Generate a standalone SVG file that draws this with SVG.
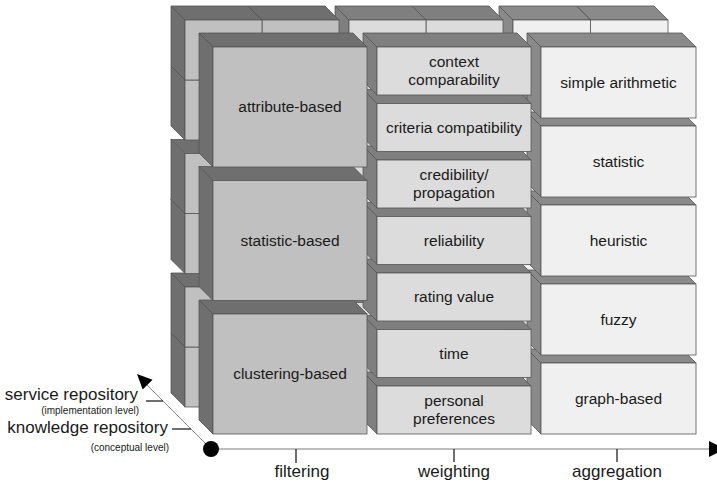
<svg xmlns="http://www.w3.org/2000/svg" width="717" height="485" viewBox="0 0 717 485">
<style>
.ff{fill:#c0c0c0;stroke:#555;stroke-width:0.8}
.fs{fill:#6f6f6f;stroke:#555;stroke-width:0.8}
.wf{fill:#dcdcdc;stroke:#555;stroke-width:0.8}
.ws{fill:#7f7f7f;stroke:#555;stroke-width:0.8}
.af{fill:#f0f0f0;stroke:#555;stroke-width:0.8}
.as{fill:#8a8a8a;stroke:#555;stroke-width:0.8}
text{font-family:"Liberation Sans",Arial,sans-serif;fill:#1a1a1a}
.lbl{font-size:15.5px;text-anchor:middle}
.ax{font-size:17px;text-anchor:middle}
.side{font-size:17px;text-anchor:end}
.small{font-size:10px;text-anchor:end}
.tick{stroke:#111;stroke-width:1.2}
</style>
<defs>
<g id="fbox"><path class="fs" d="M-14,-14H140L154,0H0Z"/><path class="fs" d="M-14,-14L0,0V120L-14,106Z"/><rect class="ff" width="154" height="120"/></g>
<g id="wbox"><path class="ws" d="M-14,-14H140L154,0H0Z"/><path class="ws" d="M-14,-14L0,0V48L-14,34Z"/><rect class="wf" width="154" height="48"/></g>
<g id="abox"><path class="as" d="M-14,-14H141L155,0H0Z"/><path class="as" d="M-14,-14L0,0V71L-14,57Z"/><rect class="af" width="155" height="71"/></g>
<g id="bfcell"><path class="fs" d="M-14,-14H63L77,0H0Z"/><path class="fs" d="M-14,-14L0,0V60L-14,46Z"/><rect class="ff" width="77" height="60"/></g>
<g id="bwcell"><path class="ws" d="M-14,-14H63L77,0H0Z"/><path class="ws" d="M-14,-14L0,0V48L-14,34Z"/><rect class="wf" width="77" height="48"/></g>
<g id="bacell"><path class="as" d="M-14,-14H63.5L77.5,0H0Z"/><path class="as" d="M-14,-14L0,0V71L-14,57Z"/><rect class="af" width="77.5" height="71"/></g>
</defs>

<g id="back-layer">
<g id="back-aggregation">
<use href="#bacell" x="590.5" y="336"/><use href="#bacell" x="513" y="336"/>
<use href="#bacell" x="590.5" y="257"/><use href="#bacell" x="513" y="257"/>
<use href="#bacell" x="590.5" y="178"/><use href="#bacell" x="513" y="178"/>
<use href="#bacell" x="590.5" y="99"/><use href="#bacell" x="513" y="99"/>
<use href="#bacell" x="590.5" y="20"/><use href="#bacell" x="513" y="20"/>
</g>
<g id="back-weighting">
<use href="#bwcell" x="426" y="359"/><use href="#bwcell" x="349" y="359"/>
<use href="#bwcell" x="426" y="302.5"/><use href="#bwcell" x="349" y="302.5"/>
<use href="#bwcell" x="426" y="246"/><use href="#bwcell" x="349" y="246"/>
<use href="#bwcell" x="426" y="189.5"/><use href="#bwcell" x="349" y="189.5"/>
<use href="#bwcell" x="426" y="133"/><use href="#bwcell" x="349" y="133"/>
<use href="#bwcell" x="426" y="76.5"/><use href="#bwcell" x="349" y="76.5"/>
<use href="#bwcell" x="426" y="20"/><use href="#bwcell" x="349" y="20"/>
</g>
<g id="back-filtering">
<use href="#bfcell" x="262" y="347"/><use href="#bfcell" x="185" y="347"/>
<use href="#bfcell" x="262" y="287"/><use href="#bfcell" x="185" y="287"/>
<use href="#bfcell" x="262" y="213.5"/><use href="#bfcell" x="185" y="213.5"/>
<use href="#bfcell" x="262" y="153.5"/><use href="#bfcell" x="185" y="153.5"/>
<use href="#bfcell" x="262" y="80"/><use href="#bfcell" x="185" y="80"/>
<use href="#bfcell" x="262" y="20"/><use href="#bfcell" x="185" y="20"/>
</g>
</g>

<g id="aggregation-column">
<g id="agg-graph-based"><use href="#abox" x="541" y="363"/><text class="lbl" x="618.5" y="403.5">graph-based</text></g>
<g id="agg-fuzzy"><use href="#abox" x="541" y="284"/><text class="lbl" x="618.5" y="324.5">fuzzy</text></g>
<g id="agg-heuristic"><use href="#abox" x="541" y="205"/><text class="lbl" x="618.5" y="245.5">heuristic</text></g>
<g id="agg-statistic"><use href="#abox" x="541" y="126"/><text class="lbl" x="618.5" y="166.5">statistic</text></g>
<g id="agg-simple-arithmetic"><use href="#abox" x="541" y="47"/><text class="lbl" x="618.5" y="87.5">simple arithmetic</text></g>
</g>

<g id="weighting-column">
<g id="w-personal-preferences"><use href="#wbox" x="377" y="386"/><text class="lbl" x="454" y="406">personal</text><text class="lbl" x="454" y="424">preferences</text></g>
<g id="w-time"><use href="#wbox" x="377" y="329.5"/><text class="lbl" x="454" y="358.5">time</text></g>
<g id="w-rating-value"><use href="#wbox" x="377" y="273"/><text class="lbl" x="454" y="302">rating value</text></g>
<g id="w-reliability"><use href="#wbox" x="377" y="216.5"/><text class="lbl" x="454" y="245.5">reliability</text></g>
<g id="w-credibility"><use href="#wbox" x="377" y="160"/><text class="lbl" x="454" y="180">credibility/</text><text class="lbl" x="454" y="198">propagation</text></g>
<g id="w-criteria-compatibility"><use href="#wbox" x="377" y="103.5"/><text class="lbl" x="454" y="132.5">criteria compatibility</text></g>
<g id="w-context-comparability"><use href="#wbox" x="377" y="47"/><text class="lbl" x="454" y="67">context</text><text class="lbl" x="454" y="85">comparability</text></g>
</g>

<g id="filtering-column">
<g id="f-clustering-based"><use href="#fbox" x="213" y="314"/><text class="lbl" x="290" y="379">clustering-based</text></g>
<g id="f-statistic-based"><use href="#fbox" x="213" y="180.5"/><text class="lbl" x="290" y="245.5">statistic-based</text></g>
<g id="f-attribute-based"><use href="#fbox" x="213" y="47"/><text class="lbl" x="290" y="112">attribute-based</text></g>
</g>

<g id="axes">
<line x1="211" y1="449" x2="712" y2="449" stroke="#bdbdbd" stroke-width="2"/>
<polygon points="709,441 709,457 725,449" fill="#000"/>
<line x1="211" y1="449" x2="146" y2="384" stroke="#8a8a8a" stroke-width="1"/>
<polygon points="137,374 152.5,379.7 142.7,389.5" fill="#000"/>
<circle cx="211" cy="449" r="8" fill="#000"/>
<line class="tick" x1="296" y1="449" x2="296" y2="463"/>
<line class="tick" x1="454" y1="449" x2="454" y2="462"/>
<line class="tick" x1="617" y1="449" x2="617" y2="462"/>
<line class="tick" x1="146" y1="401" x2="163" y2="401"/>
<line class="tick" x1="172" y1="429" x2="191" y2="429"/>
<text class="ax" x="302" y="477">filtering</text>
<text class="ax" x="454" y="477">weighting</text>
<text class="ax" x="617" y="477">aggregation</text>
<text class="side" x="138" y="400">service repository</text>
<text class="small" x="139" y="414">(implementation level)</text>
<text class="side" x="168" y="433">knowledge repository</text>
<text class="small" x="169" y="451">(conceptual level)</text>
</g>
</svg>
